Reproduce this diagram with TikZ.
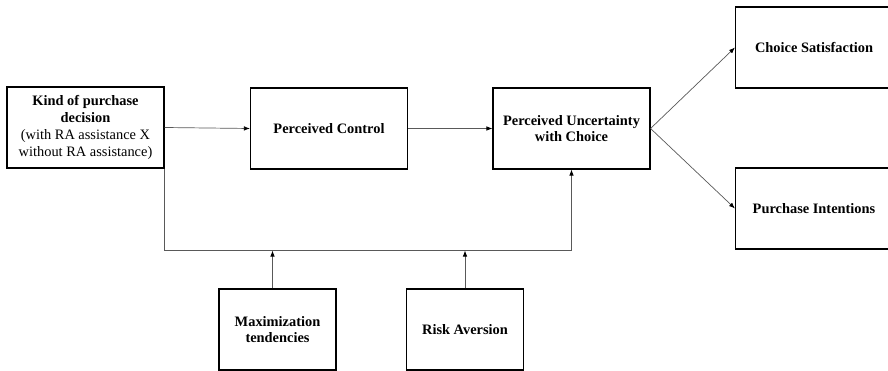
\documentclass[tikz,border=0pt]{standalone}
\usepackage{fontspec}
\setmainfont{Liberation Serif}
\usepackage{tikz}
\usetikzlibrary{positioning,arrows.meta,calc}

\begin{document}
\begin{tikzpicture}[
    x=1pt, y=-1pt,
    font=\fontsize{14.4}{16.7}\selectfont\bfseries,
    fbox/.style={draw, line width=1.1pt, minimum width=157pt,
                 minimum height=81pt, align=center, inner sep=2pt},
    linkarr/.style={-{Latex[length=6pt,width=4.5pt,color=black]}, line width=0.7pt, draw=black!65}
  ]
    \useasboundingbox (0,0) rectangle (888,371);
    % boxes
    \node[fbox] (KP) at (85.5,127.5)
      {Kind of purchase\\decision\\\mdseries(with RA assistance X\\\mdseries without RA assistance)};
    \node[fbox] (PC) at (329,128.5) {Perceived Control};
    \node[fbox] (PU) at (571.5,128.5) {Perceived Uncertainty\\with Choice};
    \node[fbox] (CS) at (814,47.5) {Choice Satisfaction};
    \node[fbox] (PI) at (814,208.5) {Purchase Intentions};
    \node[fbox, minimum width=117pt] (MT) at (277.5,329.5) {Maximization\\tendencies};
    \node[fbox, minimum width=117pt] (RA) at (465,329.5) {Risk Aversion};
    % connectors
    \draw[linkarr] (KP.east) -- (PC.west);
    \draw[linkarr] (PC.east) -- (PU.west);
    \draw[linkarr] (PU.east) -- (CS.west);
    \draw[linkarr] (PU.east) -- (PI.west);
    \coordinate (bus) at ($(PU.south)+(0,81)$);
    \draw[linkarr] (KP.south east) |- (bus) -- (PU.south);
    \draw[linkarr] ([xshift=-5pt]MT.north) -- ([xshift=-5pt]MT.north |- bus);
    \draw[linkarr] (RA.north) -- (RA.north |- bus);
\end{tikzpicture}
\end{document}
